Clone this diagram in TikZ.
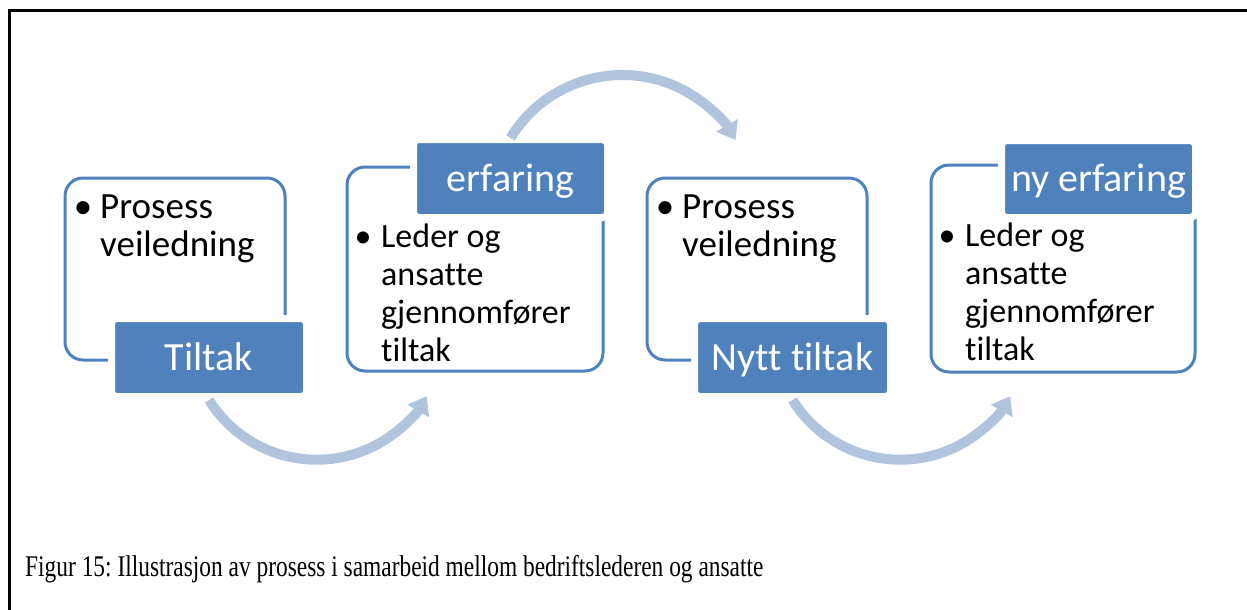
\documentclass[tikz,border=0pt]{standalone}
\usepackage{fontspec}
\setmainfont{Liberation Serif}
\newfontfamily\smartfont[Ligatures=NoCommon]{Carlito}
\newfontfamily\captionfont[FakeStretch=0.78]{Liberation Serif}
\usetikzlibrary{arrows.meta}

\definecolor{accent}{HTML}{4F81BD}
\definecolor{flowblue}{HTML}{B0C4DE}

\tikzset{
  frameline/.style={line width=3pt, line join=miter},
  panel/.style={draw=accent, line width=3pt, rounded corners=18pt,
    inner sep=0pt, outer sep=0pt},
  tag/.style={fill=accent, draw=white, line width=7pt, rounded corners=5pt,
    text=white, inner sep=0pt, outer sep=0pt, text height=25pt, text depth=0pt,
    font=\smartfont\fontsize{40}{44}\selectfont},
  bigbody/.style={anchor=base west, inner sep=0pt,
    font=\smartfont\fontsize{37}{38}\selectfont},
  smallbody/.style={anchor=base west, inner sep=0pt,
    font=\smartfont\fontsize{34}{38}\selectfont},
  flow/.style={draw=flowblue, line width=10pt,
    -{Triangle[width=24pt,length=17pt]}},
}

\newcommand{\bulletlines}[2]{%
  \begin{tabular}[t]{@{}l@{}l@{}}\makebox[#1][l]{\textbullet} & #2\end{tabular}}

\begin{document}
\frenchspacing
\begin{tikzpicture}[x=1pt,y=1pt]
  \useasboundingbox (0,0) rectangle (1247,-610);

  % page frame (top and left rules)
  \draw[frameline] (1247,-10.5) -- (9.5,-10.5) -- (9.5,-610);

  % outlined panels
  \node[panel, minimum width=220pt, minimum height=182pt] (box1) at (175,-269) {};
  \node[panel, minimum width=256pt, minimum height=204pt] (box2) at (475,-269) {};
  \node[panel, minimum width=220pt, minimum height=182pt] (box3) at (757,-269) {};
  \node[panel, minimum width=264pt, minimum height=207pt] (box4) at (1063,-268.5) {};

  % filled labels
  \node[tag, minimum width=195pt, minimum height=78pt] (tiltak) at (209,-357.5) {Tiltak};
  \node[tag, minimum width=194pt, minimum height=78pt] (erf) at (510.5,-178.5) {erfaring};
  \node[tag, minimum width=196pt, minimum height=78pt] (nytt) at (792.5,-357.5) {Nytt tiltak};
  \node[tag, minimum width=194pt, minimum height=77pt] (nyerf) at (1098.5,-179) {ny erfaring};

  % bullet texts
  \node[bigbody] (txt1) at (73.75,-218)
    {\bulletlines{26.25pt}{Prosess\\ & veiledning}};
  \node[smallbody] (txt2) at (354.5,-247)
    {\bulletlines{26.5pt}{Leder og\\ & ansatte\\ & gjennomfører\\ & tiltak}};
  \node[bigbody] (txt3) at (655.75,-218)
    {\bulletlines{26.25pt}{Prosess\\ & veiledning}};
  \node[smallbody] (txt4) at (938.5,-246)
    {\bulletlines{26.5pt}{Leder og\\ & ansatte\\ & gjennomfører\\ & tiltak}};

  % curved flow arrows
  \draw[flow] ([yshift=-3.5pt]tiltak.south) arc[start angle=212, end angle=330, radius=127];
  \draw[flow] ([yshift=1.5pt]erf.north) arc[start angle=148.75, end angle=30.2, radius=130.9];
  \draw[flow] ([yshift=-3.5pt]nytt.south) arc[start angle=212, end angle=330, radius=127];

  % caption
  \node[anchor=base west, inner sep=0pt, font=\captionfont\fontsize{30}{34}\selectfont] (caption)
    at (25,-576) {Figur 15: Illustrasjon av prosess i samarbeid mellom bedriftslederen og ansatte};
\end{tikzpicture}
\end{document}
